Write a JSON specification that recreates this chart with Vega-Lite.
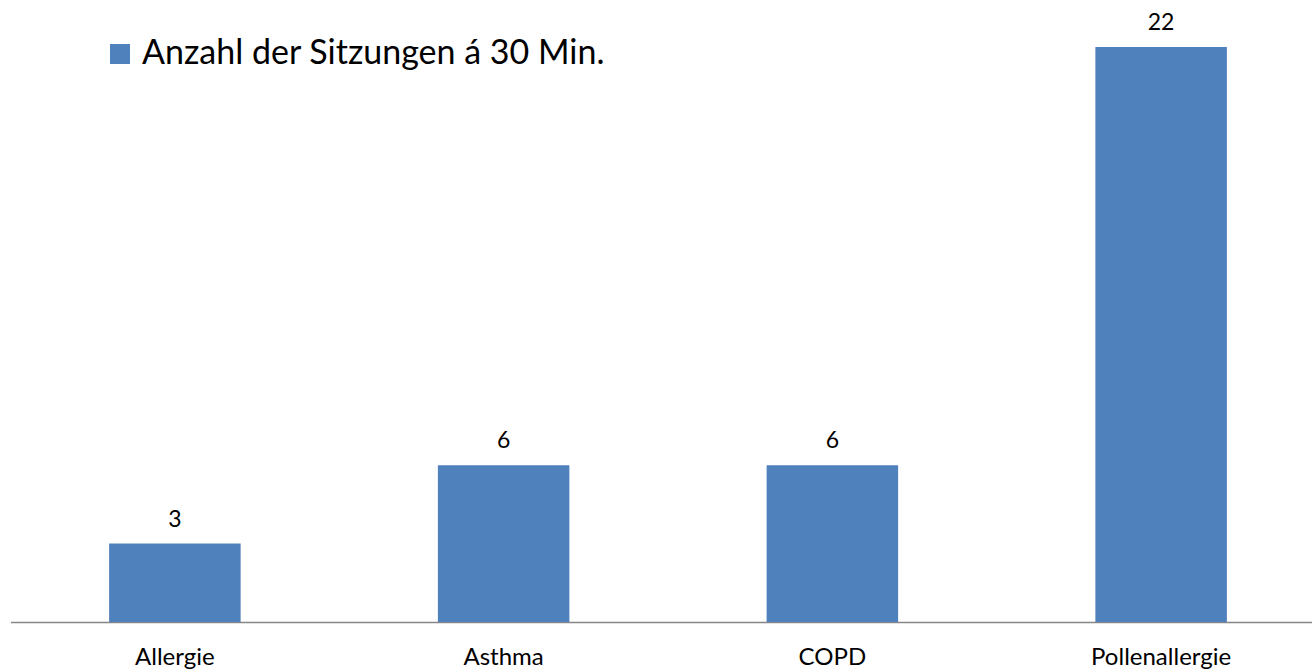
{
  "$schema": "https://vega.github.io/schema/vega-lite/v6.json",
  "autosize": {"type": "none"},
  "width": 1302,
  "height": 575,
  "padding": {"left": 10, "top": 47, "right": 0, "bottom": 49},
  "background": "white",
  "config": {"view": {"stroke": null}, "font": "Lato"},
  "data": {"values": [
    {"kategorie": "Allergie", "anzahl": 3, "serie": "Anzahl der Sitzungen á 30 Min."},
    {"kategorie": "Asthma", "anzahl": 6, "serie": "Anzahl der Sitzungen á 30 Min."},
    {"kategorie": "COPD", "anzahl": 6, "serie": "Anzahl der Sitzungen á 30 Min."},
    {"kategorie": "Pollenallergie", "anzahl": 22, "serie": "Anzahl der Sitzungen á 30 Min."}
  ]},
  "encoding": {
    "x": {"field": "kategorie", "type": "nominal", "sort": null,
      "scale": {"paddingInner": 0.6, "paddingOuter": 0.3, "range": [0.5, 1315.5]},
      "axis": {"title": null, "labelAngle": 0, "ticks": false, "grid": false,
        "domainColor": "#868686", "domainWidth": 1.5, "labelFontSize": 24, "labelColor": "#000000",
        "labelPadding": 23, "labelFont": "Lato"}},
    "y": {"field": "anzahl", "type": "quantitative",
      "scale": {"domain": [0, 22], "nice": false}, "axis": null}
  },
  "layer": [
    {"mark": {"type": "bar", "color": "#4F81BD"},
      "encoding": {"color": {"field": "serie", "type": "nominal",
        "scale": {"range": ["#4F81BD"]},
        "legend": {"title": null, "orient": "none", "legendX": 93, "legendY": -10,
          "symbolType": "square", "symbolSize": 400, "symbolStrokeWidth": 0,
          "labelFontSize": 34, "labelFont": "Lato", "labelColor": "#000000", "labelOffset": 5,
          "padding": 0, "labelLimit": 800}}}},
    {"mark": {"type": "text", "baseline": "alphabetic", "dy": -17, "fontSize": 23, "color": "#000000", "font": "Lato"},
      "encoding": {"text": {"field": "anzahl", "type": "quantitative"}}}
  ]
}
